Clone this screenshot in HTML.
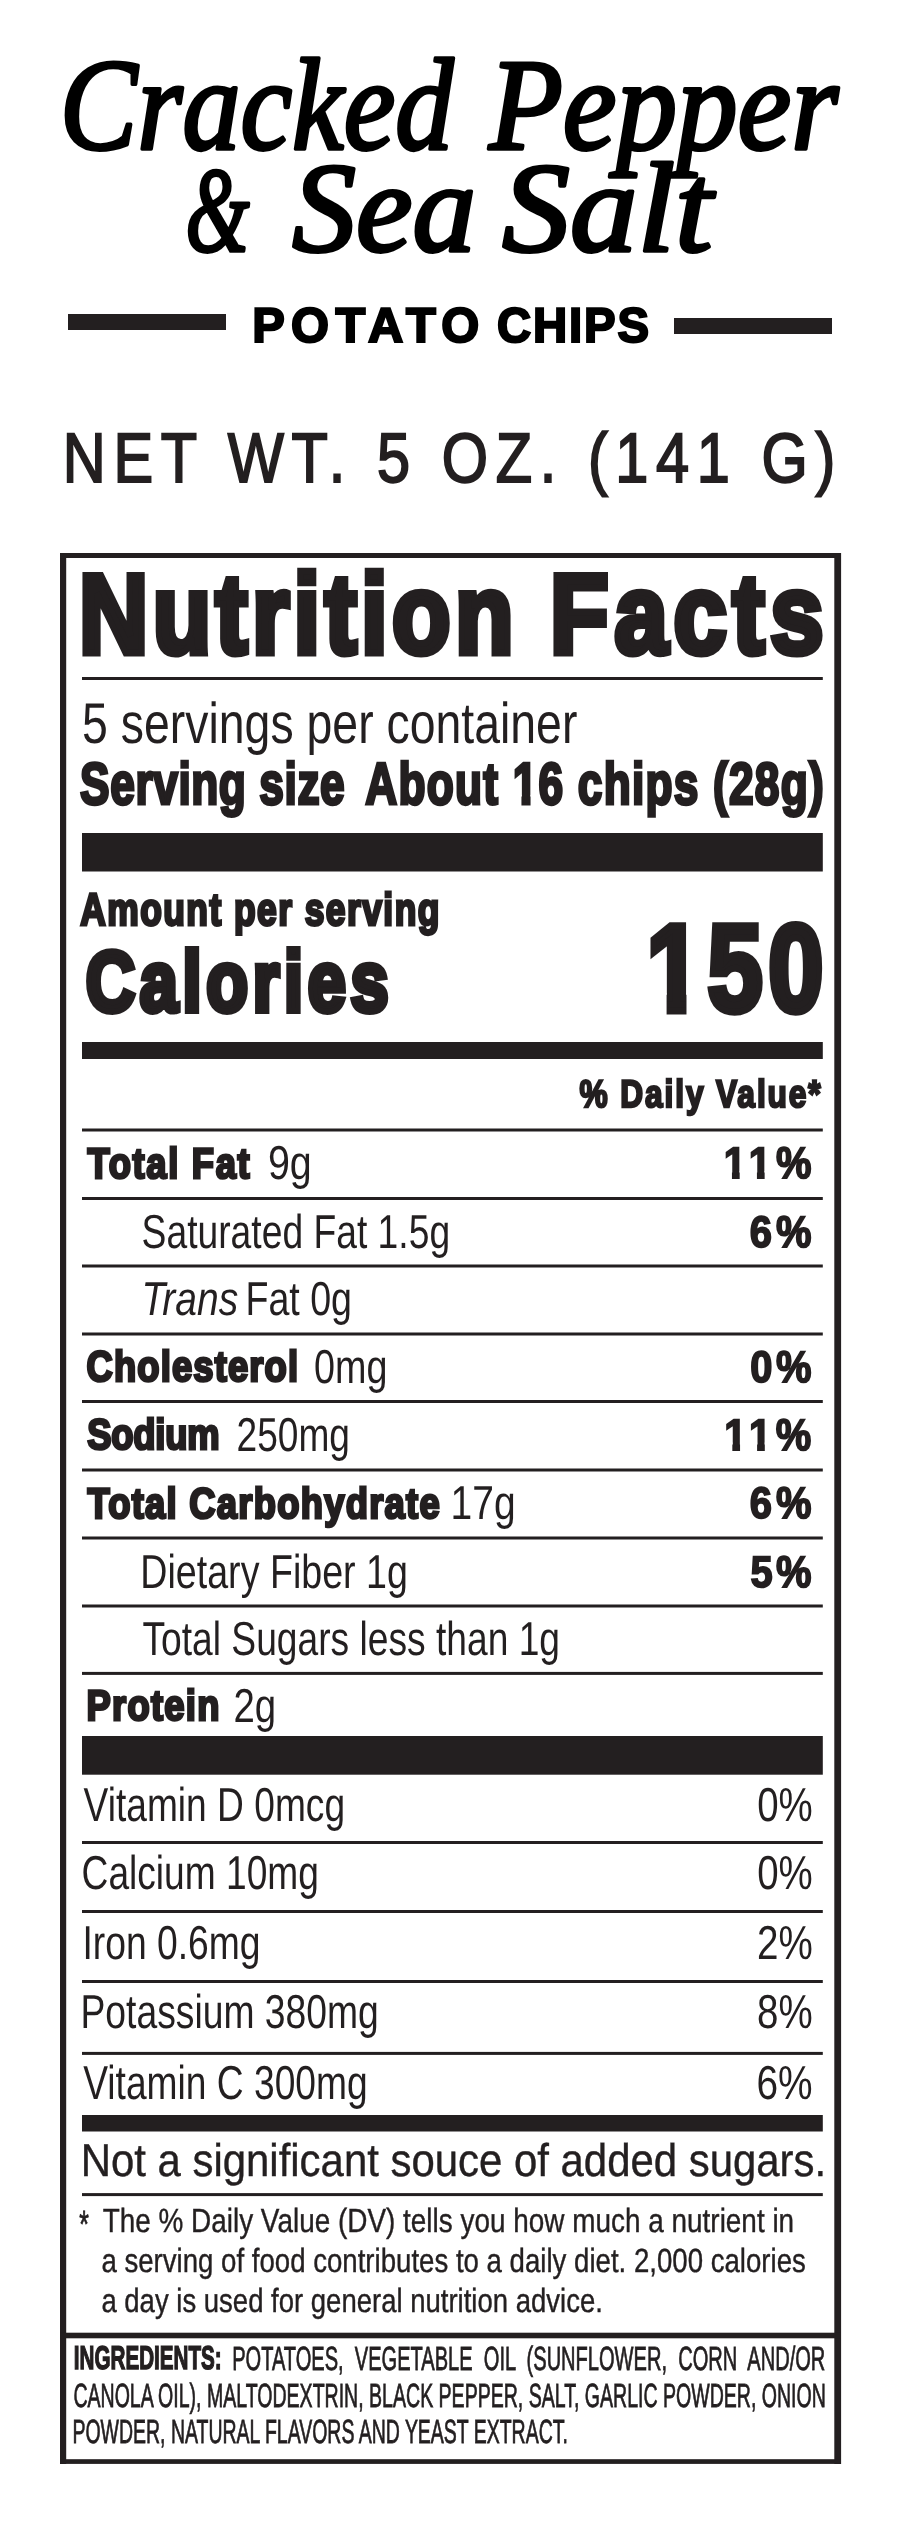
<!DOCTYPE html>
<html lang="en"><head><meta charset="utf-8"><title>Cracked Pepper &amp; Sea Salt Potato Chips</title>
<style>
html,body{margin:0;padding:0;background:#fff}
svg{display:block;will-change:transform}
text{text-rendering:geometricPrecision}
</style></head><body>
<svg width="900" height="2537" viewBox="0 0 900 2537">
<rect width="900" height="2537" fill="#fff"/>
<text x="59.82" y="148.5" font-size="131" font-family="'Liberation Serif', serif" font-style="italic" textLength="393.45" lengthAdjust="spacingAndGlyphs" stroke="#000" stroke-width="3.6" stroke-linejoin="round" fill="#000">Cracked</text>
<text x="488.93" y="148.5" font-size="131" font-family="'Liberation Serif', serif" font-style="italic" textLength="349.39" lengthAdjust="spacingAndGlyphs" stroke="#000" stroke-width="3.6" stroke-linejoin="round" fill="#000">Pepper</text>
<text x="185.49" y="251" font-size="121" font-family="'Liberation Serif', serif" font-style="italic" textLength="63.85" lengthAdjust="spacingAndGlyphs" stroke="#000" stroke-width="3.6" stroke-linejoin="round" fill="#000">&amp;</text>
<text x="292.31" y="251" font-size="128" font-family="'Liberation Serif', serif" font-style="italic" textLength="183.69" lengthAdjust="spacingAndGlyphs" stroke="#000" stroke-width="3.6" stroke-linejoin="round" fill="#000">Sea</text>
<text x="502.33" y="251" font-size="128" font-family="'Liberation Serif', serif" font-style="italic" textLength="210.24" lengthAdjust="spacingAndGlyphs" stroke="#000" stroke-width="3.6" stroke-linejoin="round" fill="#000">Salt</text>
<rect x="68" y="314" width="158" height="16" fill="#231f20"/>
<rect x="674" y="318" width="158" height="16" fill="#231f20"/>
<text transform="translate(252.22,341.6) scale(1.0,1)" x="0" y="0" font-size="48.8" font-family="'Liberation Sans', sans-serif" font-weight="bold" textLength="226.9" lengthAdjust="spacing" stroke="#000" stroke-width="2.2" stroke-linejoin="miter" fill="#000">POTATO</text>
<text transform="translate(496.99,341.6) scale(0.97,1)" x="0" y="0" font-size="48.8" font-family="'Liberation Sans', sans-serif" font-weight="bold" textLength="156.73" lengthAdjust="spacing" stroke="#000" stroke-width="2.2" stroke-linejoin="miter" fill="#000">CHIPS</text>
<text transform="translate(62.85,482) scale(0.85,1)" x="0" y="0" font-size="70" font-family="'Liberation Sans', sans-serif" textLength="908.67" lengthAdjust="spacing" stroke="#231f20" stroke-width="2.0" stroke-linejoin="miter" fill="#231f20">NET WT. 5 OZ. (141 G)</text>
<rect x="60" y="553" width="6.2" height="1911" fill="#231f20"/>
<rect x="834.3" y="553" width="6.8" height="1911" fill="#231f20"/>
<rect x="60" y="553" width="781" height="5" fill="#231f20"/>
<rect x="60" y="2459.2" width="781" height="4.7" fill="#231f20"/>
<rect x="60" y="2332.7" width="781" height="5.6" fill="#231f20"/>
<text transform="translate(79.05,653.3) scale(0.85,1)" x="0" y="0" font-size="112.8" font-family="'Liberation Sans', sans-serif" font-weight="bold" textLength="511.09" lengthAdjust="spacing" stroke="#231f20" stroke-width="7" stroke-linejoin="miter" fill="#231f20">Nutrition</text>
<text transform="translate(550.03,653.3) scale(0.85,1)" x="0" y="0" font-size="112.8" font-family="'Liberation Sans', sans-serif" font-weight="bold" textLength="321.86" lengthAdjust="spacing" stroke="#231f20" stroke-width="7" stroke-linejoin="miter" fill="#231f20">Facts</text>
<rect x="82" y="677" width="740.8" height="3" fill="#231f20"/>
<text x="82.11" y="742.6" font-size="57.5" font-family="'Liberation Sans', sans-serif" textLength="495.28" lengthAdjust="spacingAndGlyphs" fill="#231f20">5 servings per container</text>
<text transform="translate(80.12,804.3) scale(0.75,1)" x="0" y="0" font-size="59" font-family="'Liberation Sans', sans-serif" font-weight="bold" textLength="352.83" lengthAdjust="spacing" stroke="#231f20" stroke-width="3.2" stroke-linejoin="miter" fill="#231f20">Serving size</text>
<text transform="translate(365.24,804.3) scale(0.75,1)" x="0" y="0" font-size="59" font-family="'Liberation Sans', sans-serif" font-weight="bold" textLength="611.2" lengthAdjust="spacing" stroke="#231f20" stroke-width="3.2" stroke-linejoin="miter" fill="#231f20">About 16 chips (28g)</text>
<rect x="82" y="833" width="740.8" height="38.5" fill="#231f20"/>
<text transform="translate(80.23,924.9) scale(0.78,1)" x="0" y="0" font-size="45.4" font-family="'Liberation Sans', sans-serif" font-weight="bold" textLength="460.45" lengthAdjust="spacing" stroke="#231f20" stroke-width="3.0" stroke-linejoin="miter" fill="#231f20">Amount per serving</text>
<text transform="translate(85.67,1010.5) scale(0.8,1)" x="0" y="0" font-size="85.6" font-family="'Liberation Sans', sans-serif" font-weight="bold" textLength="378.76" lengthAdjust="spacing" stroke="#231f20" stroke-width="6.2" stroke-linejoin="miter" fill="#231f20">Calories</text>
<text transform="translate(646.58,1011.2) scale(0.8,1)" x="0" y="0" font-size="124" font-family="'Liberation Sans', sans-serif" font-weight="bold" textLength="221.16" lengthAdjust="spacing" stroke="#231f20" stroke-width="7" stroke-linejoin="miter" fill="#231f20">150</text>
<rect x="82" y="1042" width="740.8" height="17" fill="#231f20"/>
<text transform="translate(579.45,1107.1) scale(0.82,1)" x="0" y="0" font-size="38.6" font-family="'Liberation Sans', sans-serif" font-weight="bold" textLength="294.17" lengthAdjust="spacing" stroke="#231f20" stroke-width="2.4" stroke-linejoin="miter" fill="#231f20">% Daily Value*</text>
<rect x="82" y="1128.5" width="740.8" height="3" fill="#231f20"/>
<rect x="82" y="1197.0" width="740.8" height="3" fill="#231f20"/>
<rect x="82" y="1264.5" width="740.8" height="3" fill="#231f20"/>
<rect x="82" y="1332.5" width="740.8" height="3" fill="#231f20"/>
<rect x="82" y="1400.0" width="740.8" height="3" fill="#231f20"/>
<rect x="82" y="1468.5" width="740.8" height="3" fill="#231f20"/>
<rect x="82" y="1536.5" width="740.8" height="3" fill="#231f20"/>
<rect x="82" y="1604.5" width="740.8" height="3" fill="#231f20"/>
<rect x="82" y="1671.9" width="740.8" height="3" fill="#231f20"/>
<text transform="translate(87.46,1177.6) scale(0.85,1)" x="0" y="0" font-size="42.8" font-family="'Liberation Sans', sans-serif" font-weight="bold" textLength="190.84" lengthAdjust="spacing" stroke="#231f20" stroke-width="2.8" stroke-linejoin="miter" fill="#231f20">Total Fat</text>
<text x="267.96" y="1179" font-size="47.6" font-family="'Liberation Sans', sans-serif" textLength="43.84" lengthAdjust="spacingAndGlyphs" fill="#231f20">9g</text>
<text transform="translate(723.77,1178.1) scale(0.9,1)" x="0" y="0" font-size="44.3" font-family="'Liberation Sans', sans-serif" font-weight="bold" textLength="97.31" lengthAdjust="spacing" stroke="#231f20" stroke-width="1.8" stroke-linejoin="miter" fill="#231f20">11%</text>
<text x="141.62" y="1247.7" font-size="47.6" font-family="'Liberation Sans', sans-serif" textLength="308.48" lengthAdjust="spacingAndGlyphs" fill="#231f20">Saturated Fat 1.5g</text>
<text transform="translate(749.85,1246.8) scale(0.9,1)" x="0" y="0" font-size="44.3" font-family="'Liberation Sans', sans-serif" font-weight="bold" textLength="68.34" lengthAdjust="spacing" stroke="#231f20" stroke-width="1.8" stroke-linejoin="miter" fill="#231f20">6%</text>
<text x="141.42" y="1315" font-size="47.6" font-family="'Liberation Sans', sans-serif" font-style="italic" textLength="96.83" lengthAdjust="spacingAndGlyphs" fill="#231f20">Trans</text>
<text x="245.44" y="1315" font-size="47.6" font-family="'Liberation Sans', sans-serif" textLength="106.55" lengthAdjust="spacingAndGlyphs" fill="#231f20">Fat 0g</text>
<text transform="translate(86.59,1381.1) scale(0.85,1)" x="0" y="0" font-size="42.8" font-family="'Liberation Sans', sans-serif" font-weight="bold" textLength="248.81" lengthAdjust="spacing" stroke="#231f20" stroke-width="2.8" stroke-linejoin="miter" fill="#231f20">Cholesterol</text>
<text x="314.05" y="1382.5" font-size="47.6" font-family="'Liberation Sans', sans-serif" textLength="73.41" lengthAdjust="spacingAndGlyphs" fill="#231f20">0mg</text>
<text transform="translate(750.27,1381.6) scale(0.9,1)" x="0" y="0" font-size="44.3" font-family="'Liberation Sans', sans-serif" font-weight="bold" textLength="67.87" lengthAdjust="spacing" stroke="#231f20" stroke-width="1.8" stroke-linejoin="miter" fill="#231f20">0%</text>
<text transform="translate(87.18,1449.1) scale(0.85,1)" x="0" y="0" font-size="42.8" font-family="'Liberation Sans', sans-serif" font-weight="bold" textLength="155.87" lengthAdjust="spacing" stroke="#231f20" stroke-width="2.8" stroke-linejoin="miter" fill="#231f20">Sodium</text>
<text x="236.5" y="1450.5" font-size="47.6" font-family="'Liberation Sans', sans-serif" textLength="113.47" lengthAdjust="spacingAndGlyphs" fill="#231f20">250mg</text>
<text transform="translate(724.15,1449.6) scale(0.9,1)" x="0" y="0" font-size="44.3" font-family="'Liberation Sans', sans-serif" font-weight="bold" textLength="96.84" lengthAdjust="spacing" stroke="#231f20" stroke-width="1.8" stroke-linejoin="miter" fill="#231f20">11%</text>
<text transform="translate(87.47,1517.6) scale(0.85,1)" x="0" y="0" font-size="42.8" font-family="'Liberation Sans', sans-serif" font-weight="bold" textLength="414.31" lengthAdjust="spacing" stroke="#231f20" stroke-width="2.8" stroke-linejoin="miter" fill="#231f20">Total Carbohydrate</text>
<text x="450.57" y="1519" font-size="47.6" font-family="'Liberation Sans', sans-serif" textLength="65.11" lengthAdjust="spacingAndGlyphs" fill="#231f20">17g</text>
<text transform="translate(749.85,1518.1) scale(0.9,1)" x="0" y="0" font-size="44.3" font-family="'Liberation Sans', sans-serif" font-weight="bold" textLength="68.34" lengthAdjust="spacing" stroke="#231f20" stroke-width="1.8" stroke-linejoin="miter" fill="#231f20">6%</text>
<text x="140.31" y="1587.5" font-size="47.6" font-family="'Liberation Sans', sans-serif" textLength="267.6" lengthAdjust="spacingAndGlyphs" fill="#231f20">Dietary Fiber 1g</text>
<text transform="translate(750.44,1586.6) scale(0.9,1)" x="0" y="0" font-size="44.3" font-family="'Liberation Sans', sans-serif" font-weight="bold" textLength="67.68" lengthAdjust="spacing" stroke="#231f20" stroke-width="1.8" stroke-linejoin="miter" fill="#231f20">5%</text>
<text x="142.47" y="1655" font-size="47.6" font-family="'Liberation Sans', sans-serif" textLength="417.57" lengthAdjust="spacingAndGlyphs" fill="#231f20">Total Sugars less than 1g</text>
<text transform="translate(86.54,1720.1) scale(0.85,1)" x="0" y="0" font-size="42.8" font-family="'Liberation Sans', sans-serif" font-weight="bold" textLength="156.31" lengthAdjust="spacing" stroke="#231f20" stroke-width="2.8" stroke-linejoin="miter" fill="#231f20">Protein</text>
<text x="233.51" y="1721.5" font-size="47.6" font-family="'Liberation Sans', sans-serif" textLength="42.71" lengthAdjust="spacingAndGlyphs" fill="#231f20">2g</text>
<rect x="82" y="1736" width="740.8" height="38.7" fill="#231f20"/>
<text x="83.58" y="1821" font-size="47.6" font-family="'Liberation Sans', sans-serif" textLength="261.51" lengthAdjust="spacingAndGlyphs" fill="#231f20">Vitamin D 0mcg</text>
<text x="757.22" y="1821" font-size="47.6" font-family="'Liberation Sans', sans-serif" textLength="55.58" lengthAdjust="spacingAndGlyphs" fill="#231f20">0%</text>
<rect x="82" y="1841.0" width="740.8" height="3" fill="#231f20"/>
<text x="81.57" y="1889" font-size="47.6" font-family="'Liberation Sans', sans-serif" textLength="237.38" lengthAdjust="spacingAndGlyphs" fill="#231f20">Calcium 10mg</text>
<text x="757.22" y="1889" font-size="47.6" font-family="'Liberation Sans', sans-serif" textLength="55.58" lengthAdjust="spacingAndGlyphs" fill="#231f20">0%</text>
<rect x="82" y="1910.0" width="740.8" height="3" fill="#231f20"/>
<text x="82.38" y="1958.5" font-size="47.6" font-family="'Liberation Sans', sans-serif" textLength="178.19" lengthAdjust="spacingAndGlyphs" fill="#231f20">Iron 0.6mg</text>
<text x="757.07" y="1958.5" font-size="47.6" font-family="'Liberation Sans', sans-serif" textLength="55.76" lengthAdjust="spacingAndGlyphs" fill="#231f20">2%</text>
<rect x="82" y="1980.0" width="740.8" height="3" fill="#231f20"/>
<text x="80.49" y="2027.5" font-size="47.6" font-family="'Liberation Sans', sans-serif" textLength="298.37" lengthAdjust="spacingAndGlyphs" fill="#231f20">Potassium 380mg</text>
<text x="757.11" y="2027.5" font-size="47.6" font-family="'Liberation Sans', sans-serif" textLength="55.62" lengthAdjust="spacingAndGlyphs" fill="#231f20">8%</text>
<rect x="82" y="2051.9" width="740.8" height="3" fill="#231f20"/>
<text x="83.2" y="2098.5" font-size="47.6" font-family="'Liberation Sans', sans-serif" textLength="284.43" lengthAdjust="spacingAndGlyphs" fill="#231f20">Vitamin C 300mg</text>
<text x="756.52" y="2098.5" font-size="47.6" font-family="'Liberation Sans', sans-serif" textLength="56.16" lengthAdjust="spacingAndGlyphs" fill="#231f20">6%</text>
<rect x="82" y="2115" width="740.8" height="16.5" fill="#231f20"/>
<text x="80.67" y="2175.8" font-size="46" font-family="'Liberation Sans', sans-serif" textLength="745.51" lengthAdjust="spacingAndGlyphs" stroke="#231f20" stroke-width="0.4" stroke-linejoin="miter" fill="#231f20">Not a significant souce of added sugars.</text>
<rect x="82" y="2193.1" width="740.8" height="3" fill="#231f20"/>
<text x="79.23" y="2237" font-size="38" font-family="'Liberation Sans', sans-serif" textLength="9.63" lengthAdjust="spacingAndGlyphs" stroke="#231f20" stroke-width="0.8" stroke-linejoin="miter" fill="#231f20">*</text>
<text x="102.63" y="2232" font-size="33.5" font-family="'Liberation Sans', sans-serif" textLength="691.5" lengthAdjust="spacingAndGlyphs" stroke="#231f20" stroke-width="0.4" stroke-linejoin="miter" fill="#231f20">The % Daily Value (DV) tells you how much a nutrient in</text>
<text x="101.4" y="2272" font-size="33.5" font-family="'Liberation Sans', sans-serif" textLength="704.4" lengthAdjust="spacingAndGlyphs" stroke="#231f20" stroke-width="0.4" stroke-linejoin="miter" fill="#231f20">a serving of food contributes to a daily diet. 2,000 calories</text>
<text x="101.38" y="2311.7" font-size="33.5" font-family="'Liberation Sans', sans-serif" textLength="501.45" lengthAdjust="spacingAndGlyphs" stroke="#231f20" stroke-width="0.4" stroke-linejoin="miter" fill="#231f20">a day is used for general nutrition advice.</text>
<text x="73.85" y="2369.3" font-size="33" font-family="'Liberation Sans', sans-serif" font-weight="bold" textLength="147.77" lengthAdjust="spacingAndGlyphs" stroke="#231f20" stroke-width="1.4" stroke-linejoin="miter" fill="#231f20">INGREDIENTS:</text>
<text x="232.22" y="2369.5" font-size="33.5" font-family="'Liberation Sans', sans-serif" textLength="593.08" lengthAdjust="spacingAndGlyphs" stroke="#231f20" stroke-width="0.8" stroke-linejoin="miter" fill="#231f20" word-spacing="0.28em">POTATOES, VEGETABLE OIL (SUNFLOWER, CORN AND/OR</text>
<text x="73.39" y="2406.5" font-size="33.5" font-family="'Liberation Sans', sans-serif" textLength="752.48" lengthAdjust="spacingAndGlyphs" stroke="#231f20" stroke-width="0.8" stroke-linejoin="miter" fill="#231f20">CANOLA OIL), MALTODEXTRIN, BLACK PEPPER, SALT, GARLIC POWDER, ONION</text>
<text x="72.5" y="2443.3" font-size="33.5" font-family="'Liberation Sans', sans-serif" textLength="495.34" lengthAdjust="spacingAndGlyphs" stroke="#231f20" stroke-width="0.8" stroke-linejoin="miter" fill="#231f20">POWDER, NATURAL FLAVORS AND YEAST EXTRACT.</text>
<rect x="513.02" y="794.88" width="8.42" height="12.52" fill="#fff"/>
<rect x="530.55" y="794.88" width="7.85" height="12.52" fill="#fff"/>
<rect x="648.83" y="993.25" width="17.76" height="22.95" fill="#fff"/>
<rect x="686.48" y="993.25" width="16.47" height="22.95" fill="#fff"/>
<rect x="724.27" y="1170.88" width="7.68" height="9.62" fill="#fff"/>
<rect x="739.67" y="1170.88" width="7.16" height="9.62" fill="#fff"/>
<rect x="749.24" y="1170.88" width="7.68" height="9.62" fill="#fff"/>
<rect x="764.64" y="1170.88" width="7.16" height="9.62" fill="#fff"/>
<rect x="724.65" y="1442.38" width="7.68" height="9.62" fill="#fff"/>
<rect x="740.05" y="1442.38" width="7.16" height="9.62" fill="#fff"/>
<rect x="749.41" y="1442.38" width="7.68" height="9.62" fill="#fff"/>
<rect x="764.81" y="1442.38" width="7.16" height="9.62" fill="#fff"/>
</svg>
</body></html>
